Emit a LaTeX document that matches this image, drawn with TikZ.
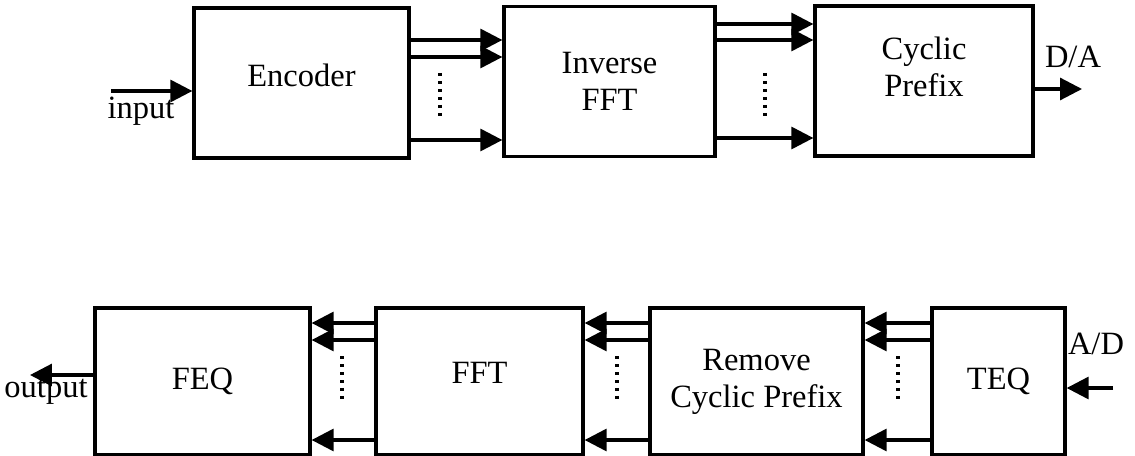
\documentclass[tikz,border=0pt]{standalone}
\usepackage{fontspec}
\setmainfont{Liberation Serif}
\usetikzlibrary{arrows.meta, positioning, calc}
\newcommand{\blockfont}{\fontsize{18.5}{21}\selectfont}

\begin{document}
\begin{tikzpicture}[
        x=0.02cm, y=-0.02cm,
        block/.style={
            rectangle, draw=black, line width=1.9pt, fill=white,
            minimum height=3cm, align=center, font=\blockfont,
            inner sep=0pt
        },
        blocktext/.style={font=\blockfont, align=center, inner sep=0pt},
        sig/.style={-{Triangle[length=0.44cm, width=0.44cm]}, line width=1.8pt},
        dots/.style={line width=0.075cm, dash pattern=on 0.065cm off 0.095cm},
        tag/.style={font=\blockfont, inner sep=0pt},
    ]
    \useasboundingbox (0,0) rectangle (1135,456);

    % ---- Transmitter ----
    \node[block, minimum width=4.3cm,
          label={[blocktext, yshift=0.16cm]center:Encoder}] (enc) at (301.5, 83) {};
    \node[block, minimum width=4.22cm] (ifft) at (609.5, 81.5) {Inverse\\FFT};
    \node[block, minimum width=4.36cm,
          label={[blocktext, yshift=0.28cm]center:Cyclic\\Prefix}] (cp) at (924, 81) {};

    \coordinate (in) at (111, 91);
    \coordinate (da) at (1082, 89);
    \draw[sig] (in) -- (enc.west |- in);
    \node[tag] (inlbl) at (141, 111) {input};
    \draw[sig] (cp.east |- da) -- (da);
    \node[tag] (dalbl) at (1073, 57) {D/A};

    % Encoder -> IFFT
    \draw[sig] (enc.east |- 0,40) -- (ifft.west |- 0,40);
    \draw[sig] (enc.east |- 0,57) -- (ifft.west |- 0,57);
    \draw[sig] (enc.east |- 0,140) -- (ifft.west |- 0,140);
    \draw[dots] (440,73) -- (440,118);

    % IFFT -> Cyclic prefix
    \draw[sig] (ifft.east |- 0,24) -- (cp.west |- 0,24);
    \draw[sig] (ifft.east |- 0,40) -- (cp.west |- 0,40);
    \draw[sig] (ifft.east |- 0,138) -- (cp.west |- 0,138);
    \draw[dots] (765,73) -- (765,118);

    % ---- Receiver ----
    \node[block, minimum width=4.3cm, minimum height=2.94cm] (feq) at (202.5, 381.5) {FEQ};
    \node[block, minimum width=4.14cm, minimum height=2.94cm,
          label={[blocktext, yshift=0.18cm]center:FFT}] (fft) at (479.5, 381.5) {};
    \node[block, minimum width=4.26cm, minimum height=2.94cm] (rcp) at (756.5, 381.5) {Remove\\Cyclic Prefix};
    \node[block, minimum width=2.66cm, minimum height=2.94cm] (teq) at (998.5, 381.5) {TEQ};

    \coordinate (ad) at (1113, 388);
    \coordinate (out) at (30, 375);
    \draw[sig] (ad) -- (teq.east |- ad);
    \node[tag] (adlbl) at (1096, 344) {A/D};
    \draw[sig] (feq.west |- out) -- (out);
    \node[tag] (outlbl) at (46, 392) {output};

    % TEQ -> Remove CP
    \draw[sig] (teq.west |- 0,323) -- (rcp.east |- 0,323);
    \draw[sig] (teq.west |- 0,340) -- (rcp.east |- 0,340);
    \draw[sig] (teq.west |- 0,440) -- (rcp.east |- 0,440);
    \draw[dots] (898,356) -- (898,401);

    % Remove CP -> FFT
    \draw[sig] (rcp.west |- 0,323) -- (fft.east |- 0,323);
    \draw[sig] (rcp.west |- 0,340) -- (fft.east |- 0,340);
    \draw[sig] (rcp.west |- 0,440) -- (fft.east |- 0,440);
    \draw[dots] (617,356) -- (617,401);

    % FFT -> FEQ
    \draw[sig] (fft.west |- 0,323) -- (feq.east |- 0,323);
    \draw[sig] (fft.west |- 0,340) -- (feq.east |- 0,340);
    \draw[sig] (fft.west |- 0,440) -- (feq.east |- 0,440);
    \draw[dots] (342,356) -- (342,401);

\end{tikzpicture}
\end{document}
